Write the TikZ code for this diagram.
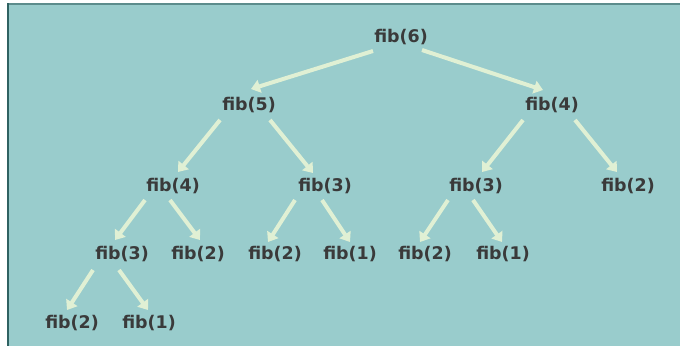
\documentclass[tikz,border=0pt]{standalone}
\usepackage{fontspec}
\setmainfont{DejaVu Sans}
\usetikzlibrary{arrows.meta,calc}
\definecolor{bgteal}{HTML}{99CCCC}
\definecolor{edgeleft}{HTML}{2F6262}
\definecolor{edgetop}{HTML}{5C8C8C}
\definecolor{arrcol}{HTML}{E0F0D4}
\definecolor{txtcol}{HTML}{3A3A3A}
\tikzset{
  fibnode/.style={inner sep=0pt, text=txtcol, font=\fontsize{17.5}{20}\selectfont\bfseries},
  arr/.style={draw=arrcol, line width=4bp, -{Triangle[width=13bp,length=9bp]}}
}
\begin{document}
\begin{tikzpicture}[x=1bp,y=-1bp]
\useasboundingbox (0,0) rectangle (680,346);
\fill[white] (0,0) rectangle (680,346);
\fill[bgteal] (8,3) rectangle (680,346);
\draw[edgetop, line width=2.5bp] (8,4.2) -- (680,4.2);
\draw[edgeleft, line width=2bp] (8,3) -- (8,346);

\node[fibnode] (n6)  at (401,37)  {fib(6)};
\node[fibnode] (n5)  at (249,105) {fib(5)};
\node[fibnode] (n4r) at (552,105) {fib(4)};
\node[fibnode] (n4l) at (173,186) {fib(4)};
\node[fibnode] (n3m) at (325,186) {fib(3)};
\node[fibnode] (n3r) at (476,186) {fib(3)};
\node[fibnode] (n2r) at (628,186) {fib(2)};
\node[fibnode] (n3l) at (122,254) {fib(3)};
\node[fibnode] (n2a) at (198,254) {fib(2)};
\node[fibnode] (n2b) at (275,254) {fib(2)};
\node[fibnode] (n1a) at (350,254) {fib(1)};
\node[fibnode] (n2c) at (425,254) {fib(2)};
\node[fibnode] (n1b) at (503,254) {fib(1)};
\node[fibnode] (n2d) at (72,323)  {fib(2)};
\node[fibnode] (n1c) at (149,323) {fib(1)};

\draw[arr] ($(n6)+(-28,14)$) -- ($(n5)+(2,-16)$);
\draw[arr] ($(n6)+(21,13)$) -- ($(n4r)+(-9,-15)$);
\draw[arr] ($(n5)+(-29,15)$) -- ($(n4l)+(5,-14)$);
\draw[arr] ($(n5)+(21,15)$) -- ($(n3m)+(-12,-13)$);
\draw[arr] ($(n4r)+(-29,15)$) -- ($(n3r)+(6,-14)$);
\draw[arr] ($(n4r)+(23,15)$) -- ($(n2r)+(-11,-14)$);
\draw[arr] ($(n4l)+(-28,14)$) -- ($(n3l)+(-7,-14)$);
\draw[arr] ($(n4l)+(-3,14)$) -- ($(n2a)+(2,-14)$);
\draw[arr] ($(n3m)+(-30,14)$) -- ($(n2b)+(-7,-12)$);
\draw[arr] ($(n3m)+(-3,14)$) -- ($(n1a)+(0,-12)$);
\draw[arr] ($(n3r)+(-28,14)$) -- ($(n2c)+(-5,-12)$);
\draw[arr] ($(n3r)+(-3,14)$) -- ($(n1b)+(-1,-12)$);
\draw[arr] ($(n3l)+(-29,16)$) -- ($(n2d)+(-5,-13)$);
\draw[arr] ($(n3l)+(-3,16)$) -- ($(n1c)+(-1,-13)$);
\end{tikzpicture}
\end{document}
